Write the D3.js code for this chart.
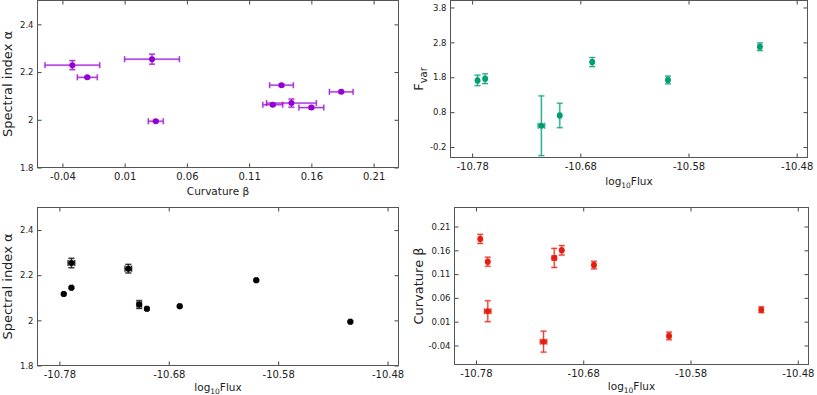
<!DOCTYPE html>
<html>
<head>
<meta charset="utf-8">
<script src="https://cdn.jsdelivr.net/npm/d3@7"></script>
<style>
  body { margin: 0; background: #fff; }
  svg { display: block; font-family: "DejaVu Sans", sans-serif; }
</style>
</head>
<body>
<svg id="root"></svg>
<script>
var width = 817,
    height = 395;

// observations (one per spectrum)
var logFlux    = [-10.776, -10.769, -10.769, -10.717, -10.707, -10.700, -10.670, -10.600, -10.514];
var logFluxErr = [0.001, 0.001, 0.003, 0.003, 0.002, 0.001, 0.001, 0.001, 0.001];
var alpha      = [2.117, 2.145, 2.254, 2.229, 2.070, 2.051, 2.063, 2.178, 1.994];
var alphaErr   = [0.004, 0.004, 0.021, 0.019, 0.017, 0.005, 0.004, 0.004, 0.004];
var beta       = [0.184, 0.136, 0.032, -0.032, 0.144, 0.160, 0.129, -0.020, 0.035];
var betaErr    = [0.0095, 0.0095, 0.022, 0.022, 0.020, 0.010, 0.008, 0.008, 0.006];

// fractional variability
var fvarFlux    = [-10.775, -10.768, -10.716, -10.699, -10.669, -10.599, -10.514];
var fvarFluxErr = [0.001, 0.001, 0.003, 0.001, 0.001, 0.001, 0.001];
var fvar        = [1.71, 1.76, 0.41, 0.705, 2.236, 1.723, 2.674];
var fvarErr     = [0.15, 0.14, 0.855, 0.35, 0.13, 0.11, 0.11];

// tick values
var betaTicks  = [-0.04, 0.01, 0.06, 0.11, 0.16, 0.21];
var alphaTicks = [1.8, 2.0, 2.2, 2.4];
var fluxTicks  = [-10.78, -10.68, -10.58, -10.48];
var fvarTicks  = [-0.2, 0.8, 1.8, 2.8, 3.8];

var root = d3.select('#root')
    .attr('width', width)
    .attr('height', height);

function zip(xs, xe, ys, ye) {
    return xs.map(function(x, i) {
        return {x: x, xe: xe[i], y: ys[i], ye: ye[i]};
    });
}

function fmt(v) {
    return String(+v.toFixed(3));
}

function panel(cfg) {
    var x = d3.scaleLinear().domain(cfg.xDomain).range([cfg.left, cfg.right]),
        y = d3.scaleLinear().domain(cfg.yDomain).range([cfg.bottom, cfg.top]);
    var g = root.append('g');

    g.append('g')
        .attr('transform', 'translate(0,' + cfg.bottom + ')')
        .call(d3.axisBottom(x).tickValues(cfg.xTicks).tickFormat(fmt).tickSizeInner(-4).tickSizeOuter(0).tickPadding(5))
        .call(function(a) { a.selectAll('text').attr('font-size', 10); });
    g.append('g')
        .attr('transform', 'translate(0,' + cfg.top + ')')
        .call(d3.axisTop(x).tickValues(cfg.xTicks).tickFormat('').tickSizeInner(-4).tickSizeOuter(0));
    g.append('g')
        .attr('transform', 'translate(' + cfg.left + ',0)')
        .call(d3.axisLeft(y).tickValues(cfg.yTicks).tickFormat(fmt).tickSizeInner(-4).tickSizeOuter(0).tickPadding(4))
        .call(function(a) { a.selectAll('text').attr('font-size', 8.5); });
    g.append('g')
        .attr('transform', 'translate(' + cfg.right + ',0)')
        .call(d3.axisRight(y).tickValues(cfg.yTicks).tickFormat('').tickSizeInner(-4).tickSizeOuter(0));

    g.selectAll('.domain').remove();
    g.selectAll('.tick line').attr('stroke', '#444');
    g.selectAll('.tick text').attr('fill', '#222').attr('font-family', '"DejaVu Sans", sans-serif');

    g.append('rect')
        .attr('x', cfg.left).attr('y', cfg.top)
        .attr('width', cfg.right - cfg.left).attr('height', cfg.bottom - cfg.top)
        .attr('fill', 'none').attr('stroke', '#555').attr('stroke-width', 1);

    // error bars: light wide stroke under a thin darker one
    var cap = 3;
    var bars = g.append('g').selectAll('g')
        .data(cfg.data)
        .enter().append('g');
    [{w: 2.2, o: 0.3}, {w: 1, o: 0.8}].forEach(function(s) {
        var b = bars.append('g')
            .attr('stroke', cfg.color)
            .attr('stroke-width', s.w)
            .attr('stroke-opacity', s.o);
        b.append('path').attr('fill', 'none').attr('d', function(d) {
            var x0 = x(d.x - d.xe), x1 = x(d.x + d.xe), yc = y(d.y);
            var y0 = y(d.y - d.ye), y1 = y(d.y + d.ye), xc = x(d.x);
            return 'M' + x0 + ',' + yc + 'H' + x1 +
                'M' + x0 + ',' + (yc - cap) + 'V' + (yc + cap) +
                'M' + x1 + ',' + (yc - cap) + 'V' + (yc + cap) +
                'M' + xc + ',' + y0 + 'V' + y1 +
                'M' + (xc - cap) + ',' + y0 + 'H' + (xc + cap) +
                'M' + (xc - cap) + ',' + y1 + 'H' + (xc + cap);
        });
    });

    g.append('g').selectAll('circle')
        .data(cfg.data)
        .enter().append('circle')
        .attr('cx', function(d) { return x(d.x); })
        .attr('cy', function(d) { return y(d.y); })
        .attr('r', 3)
        .attr('fill', cfg.color);

    // x title
    var xt = g.append('text')
        .attr('x', (cfg.left + cfg.right) / 2)
        .attr('y', cfg.xLabelY)
        .attr('text-anchor', 'middle')
        .attr('font-size', 10.5)
        .attr('fill', '#222');
    cfg.xLabel.forEach(function(p) {
        var t = xt.append('tspan').text(p.t);
        if (p.sub) t.attr('font-size', 7.5).attr('dy', 3);
        else if (p.after) t.attr('dy', -3);
    });

    // y title
    var yt = g.append('text')
        .attr('transform', 'translate(' + cfg.yLabelX + ',' + (cfg.top + cfg.bottom) / 2 + ') rotate(-90)')
        .attr('text-anchor', 'middle')
        .attr('font-size', 13)
        .attr('fill', '#222');
    cfg.yLabel.forEach(function(p) {
        var t = yt.append('tspan').text(p.t);
        if (p.sub) t.attr('font-size', 10).attr('dy', 4);
    });
}

var fluxLabel = [{t: 'log'}, {t: '10', sub: true}, {t: 'Flux', after: true}];

panel({
    left: 37.5, right: 398.5, top: 0.5, bottom: 167.5,
    xDomain: [-0.06, 0.23], yDomain: [1.8, 2.5],
    xTicks: betaTicks, yTicks: alphaTicks,
    data: zip(beta, betaErr, alpha, alphaErr),
    color: '#9400D3',
    xLabel: [{t: 'Curvature β'}], xLabelY: 195,
    yLabel: [{t: 'Spectral index α'}], yLabelX: 12
});

panel({
    left: 450.5, right: 807.5, top: 0.5, bottom: 157.5,
    xDomain: [-10.8, -10.47], yDomain: [-0.5, 4.0],
    xTicks: fluxTicks, yTicks: fvarTicks,
    data: zip(fvarFlux, fvarFluxErr, fvar, fvarErr),
    color: '#009E73',
    xLabel: fluxLabel, xLabelY: 185,
    yLabel: [{t: 'F'}, {t: 'var', sub: true}], yLabelX: 423
});

panel({
    left: 37.5, right: 398.5, top: 207.5, bottom: 365.5,
    xDomain: [-10.8, -10.47], yDomain: [1.8, 2.5],
    xTicks: fluxTicks, yTicks: alphaTicks,
    data: zip(logFlux, logFluxErr, alpha, alphaErr),
    color: '#000000',
    xLabel: fluxLabel, xLabelY: 391,
    yLabel: [{t: 'Spectral index α'}], yLabelX: 12
});

panel({
    left: 454.5, right: 808.5, top: 207.5, bottom: 364.5,
    xDomain: [-10.8, -10.47], yDomain: [-0.08, 0.25],
    xTicks: fluxTicks, yTicks: betaTicks,
    data: zip(logFlux, logFluxErr, beta, betaErr),
    color: '#E51E10',
    xLabel: fluxLabel, xLabelY: 390,
    yLabel: [{t: 'Curvature β'}], yLabelX: 423
});
</script>
</body>
</html>
